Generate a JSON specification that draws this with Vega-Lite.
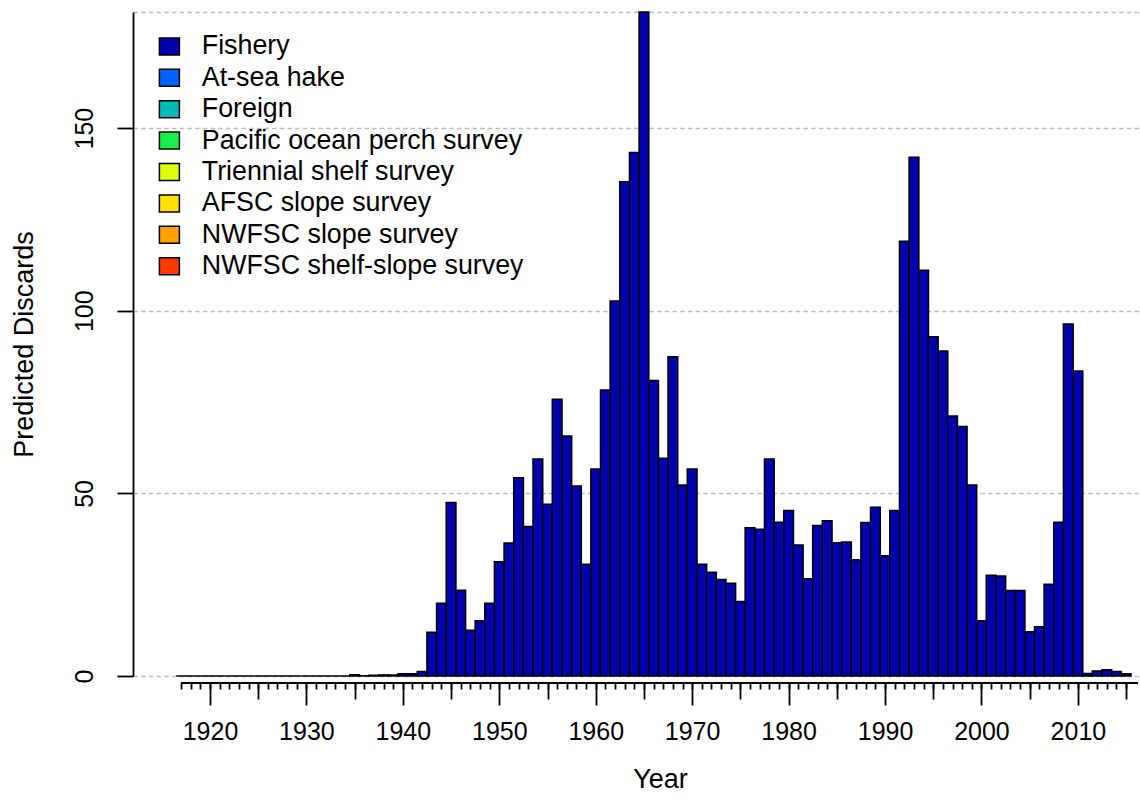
{
  "$schema": "https://vega.github.io/schema/vega-lite/v6.json",
  "autosize": {"type": "none"},
  "padding": {"left": 133, "top": 12, "right": 0, "bottom": 134},
  "width": 1007,
  "height": 664,
  "background": "white",
  "config": {
    "font": "Liberation Sans",
    "view": {"stroke": null},
    "axis": {
      "labelColor": "black",
      "tickColor": "black",
      "domainColor": "black",
      "titleColor": "black",
      "labelFont": "Liberation Sans",
      "titleFont": "Liberation Sans",
      "titleFontWeight": "normal",
      "labelFontSize": 25,
      "titleFontSize": 27,
      "tickWidth": 1.8,
      "domainWidth": 1.8
    }
  },
  "data": {
    "values": [
      {"year": 1917, "discards": 0, "fleet": "Fishery"},
      {"year": 1918, "discards": 0, "fleet": "Fishery"},
      {"year": 1919, "discards": 0, "fleet": "Fishery"},
      {"year": 1920, "discards": 0, "fleet": "Fishery"},
      {"year": 1921, "discards": 0, "fleet": "Fishery"},
      {"year": 1922, "discards": 0, "fleet": "Fishery"},
      {"year": 1923, "discards": 0, "fleet": "Fishery"},
      {"year": 1924, "discards": 0, "fleet": "Fishery"},
      {"year": 1925, "discards": 0, "fleet": "Fishery"},
      {"year": 1926, "discards": 0, "fleet": "Fishery"},
      {"year": 1927, "discards": 0, "fleet": "Fishery"},
      {"year": 1928, "discards": 0, "fleet": "Fishery"},
      {"year": 1929, "discards": 0, "fleet": "Fishery"},
      {"year": 1930, "discards": 0, "fleet": "Fishery"},
      {"year": 1931, "discards": 0, "fleet": "Fishery"},
      {"year": 1932, "discards": 0, "fleet": "Fishery"},
      {"year": 1933, "discards": 0, "fleet": "Fishery"},
      {"year": 1934, "discards": 0, "fleet": "Fishery"},
      {"year": 1935, "discards": 0.35, "fleet": "Fishery"},
      {"year": 1936, "discards": 0.05, "fleet": "Fishery"},
      {"year": 1937, "discards": 0.2, "fleet": "Fishery"},
      {"year": 1938, "discards": 0.3, "fleet": "Fishery"},
      {"year": 1939, "discards": 0.3, "fleet": "Fishery"},
      {"year": 1940, "discards": 0.6, "fleet": "Fishery"},
      {"year": 1941, "discards": 0.6, "fleet": "Fishery"},
      {"year": 1942, "discards": 1.2, "fleet": "Fishery"},
      {"year": 1943, "discards": 12.0, "fleet": "Fishery"},
      {"year": 1944, "discards": 19.9, "fleet": "Fishery"},
      {"year": 1945, "discards": 47.5, "fleet": "Fishery"},
      {"year": 1946, "discards": 23.5, "fleet": "Fishery"},
      {"year": 1947, "discards": 12.5, "fleet": "Fishery"},
      {"year": 1948, "discards": 15.1, "fleet": "Fishery"},
      {"year": 1949, "discards": 19.9, "fleet": "Fishery"},
      {"year": 1950, "discards": 31.3, "fleet": "Fishery"},
      {"year": 1951, "discards": 36.4, "fleet": "Fishery"},
      {"year": 1952, "discards": 54.3, "fleet": "Fishery"},
      {"year": 1953, "discards": 40.9, "fleet": "Fishery"},
      {"year": 1954, "discards": 59.4, "fleet": "Fishery"},
      {"year": 1955, "discards": 47.0, "fleet": "Fishery"},
      {"year": 1956, "discards": 75.8, "fleet": "Fishery"},
      {"year": 1957, "discards": 65.7, "fleet": "Fishery"},
      {"year": 1958, "discards": 52.0, "fleet": "Fishery"},
      {"year": 1959, "discards": 30.6, "fleet": "Fishery"},
      {"year": 1960, "discards": 56.7, "fleet": "Fishery"},
      {"year": 1961, "discards": 78.3, "fleet": "Fishery"},
      {"year": 1962, "discards": 102.7, "fleet": "Fishery"},
      {"year": 1963, "discards": 135.3, "fleet": "Fishery"},
      {"year": 1964, "discards": 143.3, "fleet": "Fishery"},
      {"year": 1965, "discards": 181.8, "fleet": "Fishery"},
      {"year": 1966, "discards": 80.9, "fleet": "Fishery"},
      {"year": 1967, "discards": 59.6, "fleet": "Fishery"},
      {"year": 1968, "discards": 87.4, "fleet": "Fishery"},
      {"year": 1969, "discards": 52.3, "fleet": "Fishery"},
      {"year": 1970, "discards": 56.7, "fleet": "Fishery"},
      {"year": 1971, "discards": 30.6, "fleet": "Fishery"},
      {"year": 1972, "discards": 28.4, "fleet": "Fishery"},
      {"year": 1973, "discards": 26.4, "fleet": "Fishery"},
      {"year": 1974, "discards": 25.4, "fleet": "Fishery"},
      {"year": 1975, "discards": 20.4, "fleet": "Fishery"},
      {"year": 1976, "discards": 40.6, "fleet": "Fishery"},
      {"year": 1977, "discards": 40.2, "fleet": "Fishery"},
      {"year": 1978, "discards": 59.4, "fleet": "Fishery"},
      {"year": 1979, "discards": 42.1, "fleet": "Fishery"},
      {"year": 1980, "discards": 45.3, "fleet": "Fishery"},
      {"year": 1981, "discards": 35.9, "fleet": "Fishery"},
      {"year": 1982, "discards": 26.6, "fleet": "Fishery"},
      {"year": 1983, "discards": 41.2, "fleet": "Fishery"},
      {"year": 1984, "discards": 42.5, "fleet": "Fishery"},
      {"year": 1985, "discards": 36.5, "fleet": "Fishery"},
      {"year": 1986, "discards": 36.7, "fleet": "Fishery"},
      {"year": 1987, "discards": 31.8, "fleet": "Fishery"},
      {"year": 1988, "discards": 42.0, "fleet": "Fishery"},
      {"year": 1989, "discards": 46.2, "fleet": "Fishery"},
      {"year": 1990, "discards": 32.9, "fleet": "Fishery"},
      {"year": 1991, "discards": 45.3, "fleet": "Fishery"},
      {"year": 1992, "discards": 119.0, "fleet": "Fishery"},
      {"year": 1993, "discards": 142.0, "fleet": "Fishery"},
      {"year": 1994, "discards": 111.1, "fleet": "Fishery"},
      {"year": 1995, "discards": 92.9, "fleet": "Fishery"},
      {"year": 1996, "discards": 89.0, "fleet": "Fishery"},
      {"year": 1997, "discards": 71.2, "fleet": "Fishery"},
      {"year": 1998, "discards": 68.3, "fleet": "Fishery"},
      {"year": 1999, "discards": 52.3, "fleet": "Fishery"},
      {"year": 2000, "discards": 15.1, "fleet": "Fishery"},
      {"year": 2001, "discards": 27.6, "fleet": "Fishery"},
      {"year": 2002, "discards": 27.4, "fleet": "Fishery"},
      {"year": 2003, "discards": 23.4, "fleet": "Fishery"},
      {"year": 2004, "discards": 23.4, "fleet": "Fishery"},
      {"year": 2005, "discards": 12.1, "fleet": "Fishery"},
      {"year": 2006, "discards": 13.5, "fleet": "Fishery"},
      {"year": 2007, "discards": 25.1, "fleet": "Fishery"},
      {"year": 2008, "discards": 42.1, "fleet": "Fishery"},
      {"year": 2009, "discards": 96.4, "fleet": "Fishery"},
      {"year": 2010, "discards": 83.5, "fleet": "Fishery"},
      {"year": 2011, "discards": 0.7, "fleet": "Fishery"},
      {"year": 2012, "discards": 1.4, "fleet": "Fishery"},
      {"year": 2013, "discards": 1.7, "fleet": "Fishery"},
      {"year": 2014, "discards": 1.2, "fleet": "Fishery"},
      {"year": 2015, "discards": 0.6, "fleet": "Fishery"}
    ]
  },
  "layer": [
    {
      "mark": {"type": "point", "opacity": 0},
      "encoding": {
        "x": {
          "field": "year", "type": "quantitative",
          "scale": {"domain": [1912.536, 2015.92], "nice": false, "zero": false},
          "axis": {
            "orient": "bottom",
            "values": [1917,1918,1919,1920,1921,1922,1923,1924,1925,1926,1927,1928,1929,1930,1931,1932,1933,1934,1935,1936,1937,1938,1939,1940,1941,1942,1943,1944,1945,1946,1947,1948,1949,1950,1951,1952,1953,1954,1955,1956,1957,1958,1959,1960,1961,1962,1963,1964,1965,1966,1967,1968,1969,1970,1971,1972,1973,1974,1975,1976,1977,1978,1979,1980,1981,1982,1983,1984,1985,1986,1987,1988,1989,1990,1991,1992,1993,1994,1995,1996,1997,1998,1999,2000,2001,2002,2003,2004,2005,2006,2007,2008,2009,2010,2011,2012,2013,2014,2015],
            "labels": false, "tickSize": 6, "domain": false, "grid": false, "offset": 7, "title": null
          }
        },
        "y": {
          "field": "discards", "type": "quantitative",
          "scale": {"domain": [0, 181.8], "nice": false, "zero": true},
          "axis": {
            "orient": "left",
            "values": [0, 50, 100, 150, 181.8],
            "grid": true, "gridDash": [4.5, 3.2], "gridColor": "#bdbdbd", "gridWidth": 1.6,
            "labels": false, "ticks": false, "domain": false, "title": null
          }
        }
      }
    },
    {
      "mark": {"type": "point", "opacity": 0},
      "encoding": {
        "x": {
          "field": "year", "type": "quantitative",
          "axis": {
            "orient": "bottom",
            "values": [1925, 1935, 1945, 1955, 1965, 1975, 1985, 1995, 2005, 2015],
            "labels": false, "tickSize": 16, "domain": false, "grid": false, "offset": 7, "title": null
          }
        },
        "y": {"field": "discards", "type": "quantitative", "axis": null}
      }
    },
    {
      "mark": {"type": "bar", "width": 9.74, "stroke": "black", "strokeWidth": 1.5},
      "encoding": {
        "x": {
          "field": "year", "type": "quantitative",
          "axis": {
            "orient": "bottom",
            "values": [1920, 1930, 1940, 1950, 1960, 1970, 1980, 1990, 2000, 2010],
            "format": "d",
            "tickSize": 22, "domain": false, "grid": false, "offset": 7,
            "labelPadding": 14, "title": "Year", "titlePadding": 22, "titleX": 527
          }
        },
        "y": {
          "field": "discards", "type": "quantitative",
          "axis": {
            "orient": "left",
            "values": [0, 50, 100, 150],
            "format": "d",
            "tickSize": 16, "grid": false, "domain": true,
            "labelAngle": -90, "labelPadding": 20,
            "title": "Predicted Discards", "titlePadding": 34
          }
        },
        "color": {
          "field": "fleet", "type": "nominal",
          "scale": {
            "domain": ["Fishery", "At-sea hake", "Foreign", "Pacific ocean perch survey", "Triennial shelf survey", "AFSC slope survey", "NWFSC slope survey", "NWFSC shelf-slope survey"],
            "range": ["#0000AF", "#0064FF", "#00BAB8", "#16F04C", "#DCFF0A", "#FFE000", "#FFA200", "#FF3A00"]
          },
          "legend": {
            "orient": "none", "legendX": 23, "legendY": 21, "title": null,
            "padding": 0, "labelLimit": 0,
            "labelFontSize": 26.8, "labelFont": "Liberation Sans", "labelColor": "black",
            "symbolType": "M-1,-0.85H1V0.85H-1Z", "symbolSize": 400,
            "symbolStrokeColor": "black", "symbolStrokeWidth": 1.5, "symbolOpacity": 1,
            "labelOffset": 19, "rowPadding": 3.4
          }
        }
      }
    },
    {
      "mark": {"type": "rule", "yOffset": 7, "stroke": "black", "strokeWidth": 1.8},
      "encoding": {
        "x": {"datum": 1917, "type": "quantitative", "axis": null},
        "x2": {"datum": 2016.2},
        "y": {"datum": 0, "type": "quantitative", "axis": null}
      }
    }
  ],
  "resolve": {"axis": {"x": "independent", "y": "independent"}}
}
